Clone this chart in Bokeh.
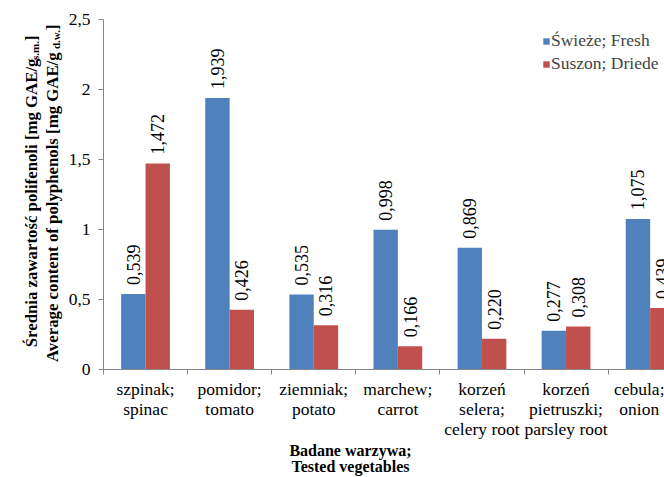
from math import pi
from bokeh.plotting import figure
from bokeh.layouts import column, row
from bokeh.models import (Range1d, FixedTicker, ColumnDataSource, Legend,
                          LegendItem)
from bokeh.core.properties import value
from bokeh.embed import file_html
from bokeh.resources import INLINE

# ---------------- data ----------------
categories = ["szpinak;\nspinac", "pomidor;\ntomato", "ziemniak;\npotato",
              "marchew;\ncarrot", "korzeń\nselera;\ncelery root",
              "korzeń\npietruszki;\nparsley root", "cebula;\nonion"]
fresh = [0.539, 1.939, 0.535, 0.998, 0.869, 0.277, 1.075]
dried = [1.472, 0.426, 0.316, 0.166, 0.220, 0.308, 0.439]
series_names = ["Świeże; Fresh", "Suszon; Driede"]
y_ticks = [0, 0.5, 1, 1.5, 2, 2.5]
x_title = ["Badane warzywa;", "Tested vegetables"]
y_title_1 = ["Średnia zawartość polifenoli [mg GAE/g", "s.m.", "]"]
y_title_2 = ["Average content of polyphenols  [mg GAE/g", "d.w.", "]"]

BLUE = "#4F81BD"
RED = "#C0504D"
AXIS = "#868686"
FONT = "Liberation Serif"

def fmt(v, nd=3):
    return f"{v:.{nd}f}".replace(".", ",")

# ---------------- layout constants ----------------
W, H = 664, 477
YT_W = 64                 # width of the y-title strip
MAIN_H = 441              # height of main chart (incl. tick labels)
XT_H = H - MAIN_H         # height of the x-title strip
LEFT = 103                # frame left edge in page pixels
TOP = 19
FRAME_BOTTOM = 369
CAT_PX = 84.1
XEND = (W - LEFT) / CAT_PX
YEND = 2.5

# approximate bold serif advance widths (em) for the short subscript pieces
_EM = {"]": 0.333, "s": 0.389, ".": 0.25, "m": 0.833, "d": 0.556, "w": 0.722}
def short_w(s, size):
    return sum(_EM.get(ch, 0.5) for ch in s) * size

# ---------------- main figure ----------------
p = figure(width=W - YT_W, height=MAIN_H, output_backend="svg",
           toolbar_location=None,
           x_range=Range1d(0, XEND), y_range=Range1d(0, YEND),
           min_border_left=LEFT - YT_W, min_border_right=0, min_border_top=TOP,
           min_border_bottom=MAIN_H - FRAME_BOTTOM)
p.outline_line_color = None
p.grid.visible = False

n = len(categories)
centers = [i + 0.5 for i in range(n)]
bw = 0.29
src = ColumnDataSource(dict(
    xf=[c - bw / 2 for c in centers], xd=[c + bw / 2 for c in centers],
    fresh=fresh, dried=dried,
    lf=[fmt(v) for v in fresh], ld=[fmt(v) for v in dried]))

r1 = p.vbar(x="xf", top="fresh", width=bw, source=src, fill_color=BLUE,
            line_color=None)
r2 = p.vbar(x="xd", top="dried", width=bw, source=src, fill_color=RED,
            line_color=None)

for xcol, tcol, ycol in [("xf", "lf", "fresh"), ("xd", "ld", "dried")]:
    p.text(x=xcol, y=ycol, text=tcol, source=src, angle=pi / 2,
           text_align="left", text_baseline="middle", y_offset=-9,
           text_font=value(FONT), text_font_size="18px", text_color="#000000")

# axes
xa = p.xaxis[0]
xa.ticker = FixedTicker(ticks=centers, minor_ticks=list(range(n + 1)))
xa.major_label_overrides = {c: cat for c, cat in zip(centers, categories)}
xa.major_tick_line_color = None
xa.major_tick_out = 0
xa.major_tick_in = 0
xa.minor_tick_out = 5
xa.minor_tick_in = 0
xa.minor_tick_line_color = AXIS
xa.axis_line_color = AXIS
xa.major_label_standoff = 4
xa.major_label_text_font = FONT
xa.major_label_text_font_size = "17.5px"
xa.major_label_text_line_height = 1.0
xa.major_label_text_color = "#000000"

ya = p.yaxis[0]
ya.ticker = FixedTicker(ticks=y_ticks, minor_ticks=[])
ya.major_label_overrides = {t: (fmt(t, 1) if t != int(t) else str(int(t))) for t in y_ticks}
ya.major_tick_out = 5
ya.major_tick_in = 0
ya.minor_tick_line_color = None
ya.major_tick_line_color = AXIS
ya.axis_line_color = AXIS
ya.major_label_standoff = 8
ya.major_label_text_font = FONT
ya.major_label_text_font_size = "17.5px"
ya.major_label_text_color = "#000000"

# legend
legend = Legend(items=[LegendItem(label=series_names[0], renderers=[r1]),
                       LegendItem(label=series_names[1], renderers=[r2])],
                location=(439, 295), orientation="vertical", padding=0, margin=0,
                spacing=2, glyph_width=8, glyph_height=8, label_standoff=1,
                label_height=20, label_text_font=FONT,
                label_text_font_size="17.5px", border_line_color=None,
                background_fill_alpha=0)
p.add_layout(legend)

# ---------------- y-title strip ----------------
# in a row, this strip's frame is aligned with the main frame (TOP..FRAME_BOTTOM),
# so its y range is set so that data y == MAIN_H - page y
yt = figure(width=YT_W, height=MAIN_H, output_backend="svg", toolbar_location=None,
            x_range=Range1d(0, YT_W),
            y_range=Range1d(MAIN_H - FRAME_BOTTOM, MAIN_H - TOP),
            x_axis_location=None, y_axis_location=None, min_border=0,
            title=None)
yt.outline_line_color = None
yt.grid.visible = False

S = 16.8
SUB = 11.0
yx, yy, ytxt, ysize = [], [], [], []
# each line is built from its top end downward (text reads bottom-to-top)
for parts, bx, top_sy in [(y_title_1, 31, 35.0), (y_title_2, 52, 24.0)]:
    main, sub, br = parts
    sy = top_sy
    for part, size, dx in [(br, S, 0), (sub, SUB, 3), (main, S, 0)]:
        yx.append(bx + dx)
        yy.append(MAIN_H - sy)
        ytxt.append(part)
        ysize.append(f"{size:.1f}px")
        if part is br:
            sy += short_w(part, size)
        elif part is sub:
            sy += short_w(part, size) - 1.5
yt.text(x=yx, y=yy, text=ytxt, text_font_size=ysize, angle=pi / 2,
        text_align="right", text_baseline="alphabetic", text_font=value(FONT),
        text_font_style="bold", text_color="#000000")

# ---------------- x-title strip ----------------
xt = figure(width=W, height=XT_H, output_backend="svg", toolbar_location=None,
            x_range=Range1d(0, W), y_range=Range1d(0, XT_H),
            x_axis_location=None, y_axis_location=None, min_border=0,
            title=None)
xt.outline_line_color = None
xt.grid.visible = False
xt.text(x=[350, 350], y=[H - 449.5, H - 465.5], text=x_title, text_align="center",
        text_baseline="middle", text_font=value(FONT), text_font_style="bold",
        text_font_size="16px", text_color="#000000")

layout = column(row(yt, p, spacing=0), xt, spacing=0)
open("out.html", "w").write(file_html(layout, INLINE))
